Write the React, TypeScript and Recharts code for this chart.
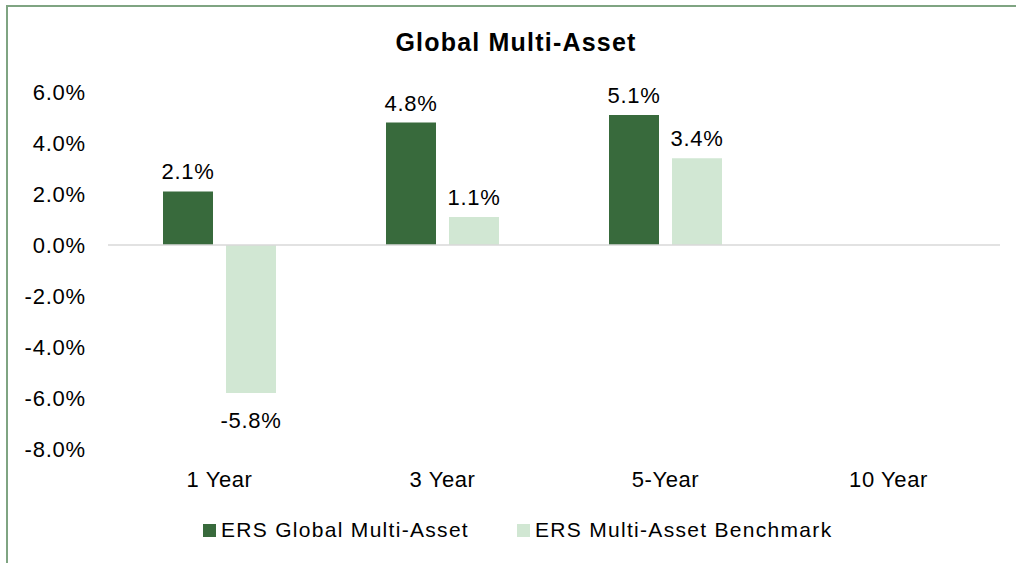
import React from "react";
import { Bar, BarChart, LabelList, ReferenceLine, XAxis, YAxis } from "recharts";

const periods = ["1 Year", "3 Year", "5-Year", "10 Year"];
const ersGlobal: (number | null)[] = [2.1, 4.8, 5.1, null];
const benchmark: (number | null)[] = [-5.8, 1.1, 3.4, null];
const yTicks = [-8, -6, -4, -2, 0, 2, 4, 6];

const series = [
  { key: "ers", name: "ERS Global Multi-Asset", color: "#386A3C" },
  { key: "bench", name: "ERS Multi-Asset Benchmark", color: "#D1E7D3" },
];

const FONT = "'Liberation Sans', Arial, sans-serif";

const rows = periods.map((p, i) => ({
  period: p,
  ers: ersGlobal[i],
  bench: benchmark[i],
}));

const pct = (v: number) => `${v.toFixed(1)}%`;

function BarLabel(props: any) {
  const { x, y, width, height, value } = props;
  if (value == null) return null;
  const top = Math.min(y, y + height);
  const bottom = Math.max(y, y + height);
  const ty = value >= 0 ? top - 12 : bottom + 35;
  return (
    <text
      x={x + width / 2}
      y={ty}
      textAnchor="middle"
      fill="#000"
      fontSize={22}
      letterSpacing={0.7}
      fontFamily={FONT}
    >
      {pct(value)}
    </text>
  );
}

export default function App() {
  return (
    <div
      style={{
        position: "relative",
        width: 1016,
        height: 563,
        overflow: "hidden",
        background: "#fff",
        fontFamily: FONT,
      }}
    >
      <style>{`body{margin:0;background:#fff}`}</style>
      <div
        style={{
          position: "absolute",
          left: 6,
          top: 5,
          width: 1020,
          height: 600,
          borderLeft: "2px solid #7FA482",
          borderTop: "2px solid #7FA482",
        }}
      />
      <div
        style={{
          position: "absolute",
          left: 0,
          width: 1032,
          top: 27,
          textAlign: "center",
          fontSize: 25,
          fontWeight: 700,
          letterSpacing: 1.2,
          lineHeight: "30px",
          color: "#000",
        }}
      >
        Global Multi-Asset
      </div>
      <div style={{ position: "absolute", left: 0, top: 0 }}>
        <BarChart
          width={1016}
          height={563}
          data={rows}
          margin={{ top: 92, right: 16, bottom: 84, left: 0 }}
          barSize={50}
          barGap={13}
        >
          <XAxis
            dataKey="period"
            axisLine={false}
            tickLine={false}
            tickSize={0}
            tickMargin={22}
            height={30}
            interval={0}
            tick={{ fill: "#000", fontSize: 22, fontFamily: FONT, letterSpacing: 0.6 }}
          />
          <YAxis
            domain={[-8, 6]}
            ticks={yTicks}
            width={108}
            axisLine={false}
            tickLine={false}
            tickSize={0}
            tickMargin={22}
            tickFormatter={(v) => pct(v)}
            tick={{ fill: "#000", fontSize: 22, fontFamily: FONT, letterSpacing: 0.8 }}
          />
          <ReferenceLine y={0} stroke="#D9D9D9" strokeWidth={1.5} />
          {series.map((s) => (
            <Bar
              key={s.key}
              dataKey={s.key}
              name={s.name}
              fill={s.color}
              isAnimationActive={false}
            >
              <LabelList dataKey={s.key} content={BarLabel} />
            </Bar>
          ))}
        </BarChart>
      </div>
      <div
        style={{
          position: "absolute",
          left: 203,
          top: 516,
          display: "flex",
          alignItems: "center",
          gap: 48,
          fontSize: 21,
          letterSpacing: 1.3,
          color: "#000",
          lineHeight: "28px",
        }}
      >
        {series.map((s) => (
          <div key={s.key} style={{ display: "flex", alignItems: "center" }}>
            <span
              style={{
                display: "inline-block",
                width: 13,
                height: 13,
                background: s.color,
                marginRight: 5,
              }}
            />
            <span>{s.name}</span>
          </div>
        ))}
      </div>
    </div>
  );
}
